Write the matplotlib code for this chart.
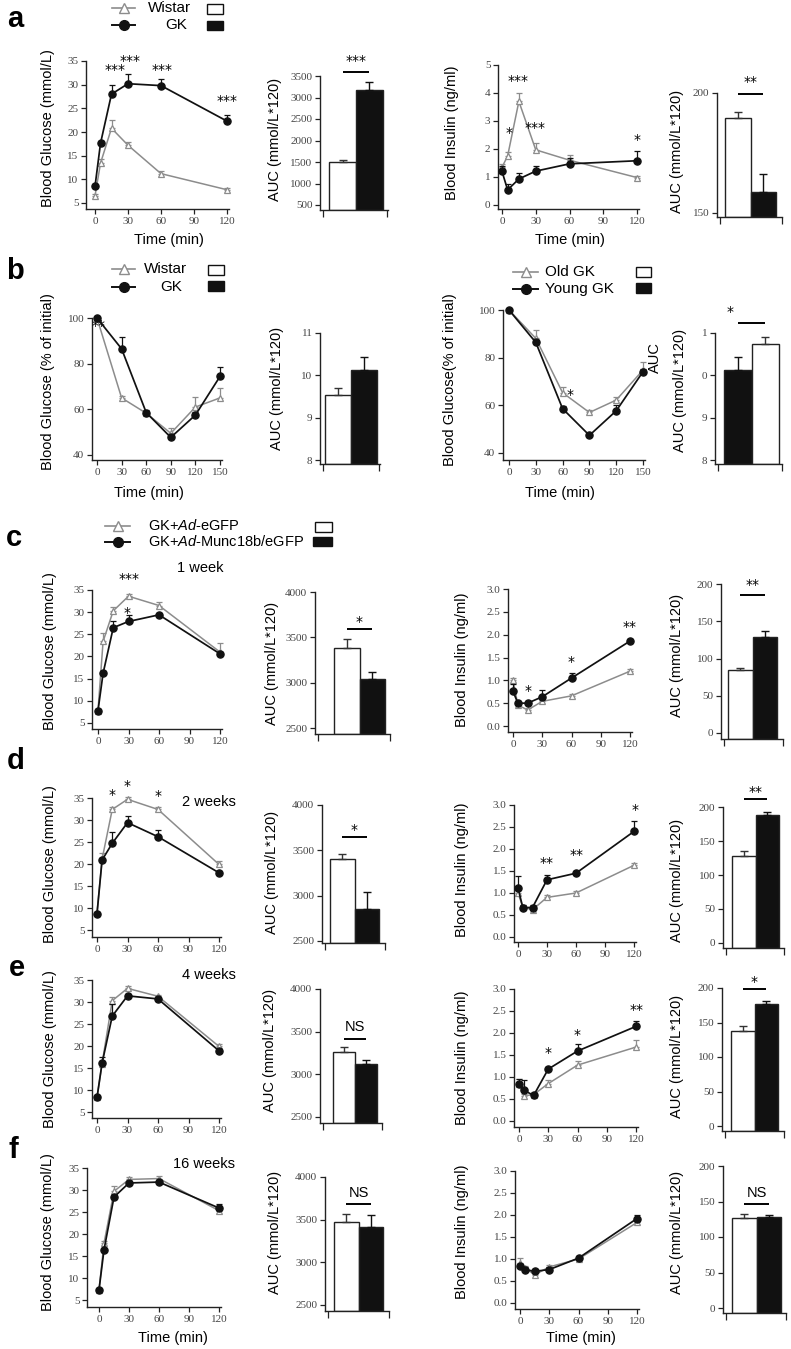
import numpy as np
import matplotlib
matplotlib.use('Agg')
import matplotlib.pyplot as plt
from matplotlib.patches import Rectangle

plt.rcParams['font.family'] = ['Liberation Sans', 'DejaVu Sans']
plt.rcParams['mathtext.fontset'] = 'custom'
plt.rcParams['mathtext.it'] = 'Liberation Sans:italic'
plt.rcParams['mathtext.rm'] = 'Liberation Sans'

GRAY = '#8c8c8c'
BLACK = '#111111'

# ---------------- data ----------------
t_ogtt = [0, 5, 15, 30, 60, 120]
t_itt = [0, 30, 60, 90, 120, 150]

# a: Wistar vs GK OGTT
a_glu_wistar = [6.5, 13.4, 20.8, 17.2, 11.2, 7.8]
a_glu_wistar_err = [0.5, 0.8, 1.8, 0.7, 0.6, 0.3]
a_glu_gk = [8.5, 17.6, 28.0, 30.2, 29.8, 22.3]
a_glu_gk_err = [0.6, 0.6, 2.0, 2.1, 1.5, 1.3]
a_glu_auc = [1490, 3175]
a_glu_auc_err = [55, 190]
a_ins_wistar = [1.35, 1.75, 3.7, 1.97, 1.6, 0.98]
a_ins_wistar_err = [0.1, 0.15, 0.3, 0.25, 0.2, 0.05]
a_ins_gk = [1.2, 0.54, 0.93, 1.21, 1.47, 1.58]
a_ins_gk_err = [0.2, 0.2, 0.2, 0.18, 0.2, 0.35]
a_ins_auc = [189.5, 158.9]
a_ins_auc_err = [2.5, 7.5]
a_glu_sig_t = [18, 32, 61, 120]
a_glu_sig_y = [33.1, 35.0, 33.1, 26.5]
a_glu_sig = ['***', '***', '***', '***']
a_ins_sig_t = [6, 14, 29, 120]
a_ins_sig_y = [2.57, 4.43, 2.75, 2.32]
a_ins_sig = ['*', '***', '***', '*']

# b: ITT
b_wistar = [100, 65, 58.3, 49.5, 61, 65]
b_wistar_err = [0.5, 1, 1, 2.5, 4.5, 4.5]
b_gk = [100, 86.5, 58.6, 47.7, 57.5, 74.4]
b_gk_err = [0.5, 5, 1, 1, 1.5, 4]
b_auc = [9.54, 10.12]
b_auc_err = [0.17, 0.32]
b_old = [100, 88.1, 65.3, 57.0, 62.2, 74.8]
b_old_err = [0.5, 3.5, 2.5, 1, 1.5, 3.5]
b_young = [100, 86.4, 58.6, 47.4, 57.7, 74.1]
b_young_err = [0.5, 1, 1, 0.5, 2.3, 1]
b_age_auc = [10.12, 10.74]   # Young GK (black), Old GK (white)
b_age_auc_err = [0.32, 0.17]
b_sig_t, b_sig_y, b_sig = [2], [96.5], ['**']
b_age_sig_t, b_age_sig_y, b_age_sig = [68], [64.3], ['*']

# c-f: GK+Ad-eGFP vs GK+Ad-Munc18b/eGFP
c_glu_egfp = [7.8, 23.4, 30.3, 33.6, 31.5, 21.0]
c_glu_egfp_err = [0.3, 1.8, 0.8, 0.6, 0.8, 2.0]
c_glu_munc = [7.8, 16.2, 26.5, 27.9, 29.4, 20.6]
c_glu_munc_err = [0.3, 0.5, 1.4, 1.4, 0.5, 0.5]
c_glu_auc = [3380, 3040]
c_glu_auc_err = [100, 80]
c_ins_egfp = [1.0, 0.46, 0.35, 0.54, 0.66, 1.2]
c_ins_egfp_err = [0.05, 0.05, 0.05, 0.05, 0.05, 0.05]
c_ins_munc = [0.76, 0.5, 0.5, 0.64, 1.05, 1.86]
c_ins_munc_err = [0.15, 0.05, 0.05, 0.15, 0.11, 0.05]
c_ins_auc = [85, 129]
c_ins_auc_err = [2, 8]
c_glu_sig_t, c_glu_sig_y, c_glu_sig = [31, 29], [37.5, 29.8], ['***', '*']
c_ins_sig_t, c_ins_sig_y, c_ins_sig = [15, 60, 120], [0.77, 1.40, 2.17], ['*', '*', '**']

d_glu_egfp = [8.8, 21.1, 32.4, 34.7, 32.4, 19.9]
d_glu_egfp_err = [0.3, 1.4, 0.5, 0.5, 0.5, 0.8]
d_glu_munc = [8.7, 20.9, 24.7, 29.4, 26.2, 18.0]
d_glu_munc_err = [0.3, 0.5, 2.5, 1.4, 1.6, 0.5]
d_glu_auc = [3400, 2855]
d_glu_auc_err = [65, 180]
d_ins_egfp = [1.0, 0.68, 0.62, 0.9, 1.0, 1.63]
d_ins_egfp_err = [0.1, 0.05, 0.05, 0.05, 0.05, 0.05]
d_ins_munc = [1.11, 0.67, 0.67, 1.3, 1.45, 2.4]
d_ins_munc_err = [0.27, 0.05, 0.05, 0.1, 0.05, 0.24]
d_ins_auc = [128, 188]
d_ins_auc_err = [8, 5]
d_glu_sig_t, d_glu_sig_y, d_glu_sig = [15, 30, 60], [35.7, 37.7, 35.5], ['*', '*', '*']
d_ins_sig_t, d_ins_sig_y, d_ins_sig = [30, 61, 121], [1.68, 1.86, 2.89], ['**', '**', '*']

e_glu_egfp = [8.3, 16.0, 30.3, 33.1, 31.3, 19.9]
e_glu_egfp_err = [0.3, 0.5, 0.8, 0.5, 0.4, 0.5]
e_glu_munc = [8.3, 16.1, 26.8, 31.4, 30.7, 18.9]
e_glu_munc_err = [0.3, 1.5, 2.7, 0.5, 0.4, 0.4]
e_glu_auc = [3263, 3118]
e_glu_auc_err = [60, 50]
e_ins_egfp = [0.85, 0.57, 0.6, 0.85, 1.27, 1.68]
e_ins_egfp_err = [0.1, 0.05, 0.05, 0.08, 0.1, 0.15]
e_ins_munc = [0.83, 0.7, 0.58, 1.18, 1.59, 2.15]
e_ins_munc_err = [0.13, 0.23, 0.06, 0.05, 0.16, 0.13]
e_ins_auc = [137, 177]
e_ins_auc_err = [8, 3.5]
e_ins_sig_t, e_ins_sig_y, e_ins_sig = [30, 60, 121], [1.55, 1.95, 2.52], ['*', '*', '**']

f_glu_egfp = [7.2, 17.9, 29.7, 32.4, 32.6, 25.3]
f_glu_egfp_err = [0.3, 0.5, 1.3, 0.5, 0.5, 0.9]
f_glu_munc = [7.3, 16.4, 28.4, 31.6, 31.8, 25.9]
f_glu_munc_err = [0.3, 0.5, 0.5, 0.5, 0.5, 1.0]
f_glu_auc = [3469, 3414]
f_glu_auc_err = [100, 140]
f_ins_egfp = [0.92, 0.8, 0.64, 0.82, 1.0, 1.83]
f_ins_egfp_err = [0.1, 0.05, 0.05, 0.05, 0.05, 0.05]
f_ins_munc = [0.84, 0.76, 0.72, 0.76, 1.02, 1.92]
f_ins_munc_err = [0.05, 0.05, 0.05, 0.05, 0.05, 0.08]
f_ins_auc = [127, 127.5]
f_ins_auc_err = [6, 4]

# ---------------- layout helpers ----------------
W, H = 791, 1349
fig = plt.figure(figsize=(W / 100, H / 100), dpi=100)


def rect(l, t, r, b):
    return [l / W, 1 - b / H, (r - l) / W, (b - t) / H]


def style(ax):
    for s in ['top', 'right']:
        ax.spines[s].set_visible(False)
    for s in ['left', 'bottom']:
        ax.spines[s].set_linewidth(1.0)
        ax.spines[s].set_color('#222222')
    ax.tick_params(direction='out', length=3.5, width=0.9, color='#222222',
                   labelsize=8, labelcolor='#444444', pad=2,
                   labelfontfamily='Liberation Serif')
    ax.patch.set_alpha(0)


def line_axes(xl, yb, xr, xp, xv, yp, yv, xticks, yticks, yfmt=None):
    sx = (xp[1] - xp[0]) / (xv[1] - xv[0])
    sy = (yp[0] - yp[1]) / (yv[1] - yv[0])
    ax = fig.add_axes(rect(xl, yp[1], xr, yb))
    ax.set_xlim(xv[0] - (xp[0] - xl) / sx, xv[1] + (xr - xp[1]) / sx)
    ax.set_ylim(yv[0] - (yb - yp[0]) / sy, yv[1])
    style(ax)
    ax.set_xticks(xticks)
    ax.set_yticks(yticks)
    if yfmt:
        ax.set_yticklabels([yfmt % v for v in yticks])
    return ax


def series(ax, t, y, err, kind):
    if kind == 'gray':
        c, m, mfc, ms, lw, z = GRAY, '^', 'white', 5, 1.1, 2
    else:
        c, m, mfc, ms, lw, z = BLACK, 'o', BLACK, 5.2, 1.25, 3
    ax.errorbar(t, y, yerr=[np.zeros(len(err)), err], fmt='none', ecolor=c,
                elinewidth=0.9, capsize=2, capthick=0.9, zorder=z, clip_on=False)
    ax.plot(t, y, color=c, lw=lw, marker=m, ms=ms, mfc=mfc, mec=c, mew=0.9,
            zorder=z + 0.5, clip_on=False)


def stars(ax, ts, ys, labels):
    for t, y, lab in zip(ts, ys, labels):
        ax.text(t, y, lab, ha='center', va='center', fontsize=10,
                family='DejaVu Sans', clip_on=False)


def bar_axes(xl, yb, xr, bw0, bb1, yp, yv, yticks, vals, errs, fills,
             ylabels=None, sig=None):
    s = (bb1 - bw0) / 2
    sy = (yp[0] - yp[1]) / (yv[1] - yv[0])
    ax = fig.add_axes(rect(xl, yp[1], xr, yb))
    x_lo, x_hi = -(bw0 - xl) / s, 2 + (xr - bb1) / s
    y_lo = yv[0] - (yb - yp[0]) / sy
    ax.set_xlim(x_lo, x_hi)
    ax.set_ylim(y_lo, yv[1])
    style(ax)
    ax.set_yticks(yticks)
    if ylabels:
        ax.set_yticklabels(ylabels)
    ax.set_xticks([x_lo + 3 / s, x_hi - 0.5 / s])
    ax.set_xticklabels([])
    ax.tick_params(axis='x', length=5)
    x = np.arange(len(vals)) + 0.5
    heights = np.array(vals) - y_lo
    ax.bar(x, heights, width=1, bottom=y_lo, color=fills,
           edgecolor='#222222', linewidth=1.0, zorder=2)
    for xi, v, e, f in zip(x, vals, errs, fills):
        ec = '#111111' if f != 'white' else '#333333'
        ax.errorbar([xi], [v], yerr=[[0], [e]], fmt='none', ecolor=ec,
                    elinewidth=1, capsize=3, capthick=1, zorder=3)
    if sig:
        level, tx, ty, lab = sig
        ax.plot([0.5, 1.5], [level, level], color='black', lw=1.4,
                clip_on=False, solid_capstyle='butt')
        if lab == 'NS':
            ax.text(tx, ty, lab, ha='center', va='center', fontsize=10.5,
                    clip_on=False)
        else:
            ax.text(tx, ty, lab, ha='center', va='center', fontsize=10,
                    family='DejaVu Sans', clip_on=False)
    return ax


glu_y = list(range(5, 36, 5))
ins_y = [0, 0.5, 1.0, 1.5, 2.0, 2.5, 3.0]
auc_glu_y = [2500, 3000, 3500, 4000]
auc_ins_y = [0, 50, 100, 150, 200]
t_ticks = [0, 30, 60, 90, 120]
itt_ticks = [0, 30, 60, 90, 120, 150]

# ---------------- row a ----------------
ax = line_axes(86, 209, 229, (95, 227), (0, 120), (203, 61), (5, 35), t_ticks, glu_y)
series(ax, t_ogtt, a_glu_wistar, a_glu_wistar_err, 'gray')
series(ax, t_ogtt, a_glu_gk, a_glu_gk_err, 'black')
stars(ax, a_glu_sig_t, a_glu_sig_y, a_glu_sig)

bar_axes(320, 210, 388, 329, 383, (205, 76), (500, 3500), list(range(500, 3501, 500)),
         a_glu_auc, a_glu_auc_err, ['white', BLACK], sig=(3593, 1.0, 3849, '***'))

ax = line_axes(498, 209, 639, (502, 637), (0, 120), (205, 65), (0, 5), t_ticks, [0, 1, 2, 3, 4, 5])
series(ax, t_ogtt, a_ins_wistar, a_ins_wistar_err, 'gray')
series(ax, t_ogtt, a_ins_gk, a_ins_gk_err, 'black')
stars(ax, a_ins_sig_t, a_ins_sig_y, a_ins_sig)

bar_axes(717, 217, 782, 725, 776, (213, 93), (150, 200), [150, 200],
         a_ins_auc, a_ins_auc_err, ['white', BLACK], sig=(199.6, 1.0, 204.6, '**'))

# ---------------- row b ----------------
ax = line_axes(92, 460, 222, (97, 220), (0, 150), (455, 318), (40, 100), itt_ticks, [40, 60, 80, 100])
series(ax, t_itt, b_wistar, b_wistar_err, 'gray')
series(ax, t_itt, b_gk, b_gk_err, 'black')
stars(ax, b_sig_t, b_sig_y, b_sig)

bar_axes(320, 464, 380, 325, 377, (460, 333), (8, 11), [8, 9, 10, 11],
         b_auc, b_auc_err, ['white', BLACK])

ax = line_axes(503, 460, 645, (509, 643), (0, 150), (453, 310), (40, 100), itt_ticks, [40, 60, 80, 100])
series(ax, t_itt, b_old, b_old_err, 'gray')
series(ax, t_itt, b_young, b_young_err, 'black')
stars(ax, b_age_sig_t, b_age_sig_y, b_age_sig)

bar_axes(715, 464, 782, 724, 779, (460, 333), (8, 11), [8, 9, 10, 11],
         b_age_auc, b_age_auc_err, [BLACK, 'white'], ylabels=['8', '9', '0', '1'],
         sig=(11.24, 0.21, 11.5, '*'))

# ---------------- rows c-f ----------------
rows = [
    dict(glu=(92, 729, 222, (98, 220), (723, 590)), gauc=(315, 734, 390, 334, 385, (728, 592)),
         ins=(508, 732, 632, (513, 630), (726, 589)), iauc=(721, 739, 783, 728, 777, (733, 584)),
         ge=c_glu_egfp, gee=c_glu_egfp_err, gm=c_glu_munc, gme=c_glu_munc_err,
         ga=c_glu_auc, gae=c_glu_auc_err, ie=c_ins_egfp, iee=c_ins_egfp_err,
         im=c_ins_munc, ime=c_ins_munc_err, ia=c_ins_auc, iae=c_ins_auc_err,
         gsig=(c_glu_sig_t, c_glu_sig_y, c_glu_sig), isig=(c_ins_sig_t, c_ins_sig_y, c_ins_sig),
         gbar=(3591, 1.0, 3669, '*'), ibar=(185, 1.0, 199, '**')),
    dict(glu=(92, 937, 221, (97, 219), (930, 798)), gauc=(322, 943, 385, 330, 379, (941, 805)),
         ins=(514, 942, 636, (518, 634), (937, 805)), iauc=(723, 948, 784, 732, 779, (943, 807)),
         ge=d_glu_egfp, gee=d_glu_egfp_err, gm=d_glu_munc, gme=d_glu_munc_err,
         ga=d_glu_auc, gae=d_glu_auc_err, ie=d_ins_egfp, iee=d_ins_egfp_err,
         im=d_ins_munc, ime=d_ins_munc_err, ia=d_ins_auc, iae=d_ins_auc_err,
         gsig=(d_glu_sig_t, d_glu_sig_y, d_glu_sig), isig=(d_ins_sig_t, d_ins_sig_y, d_ins_sig),
         gbar=(3647, 1.0, 3724, '*'), ibar=(212, 1.0, 222, '**')),
    dict(glu=(92, 1118, 221, (97, 219), (1112, 980)), gauc=(320, 1123, 382, 333, 377, (1117, 989)),
         ins=(514, 1127, 638, (519, 636), (1121, 989)), iauc=(722, 1131, 784, 731, 778, (1126, 988)),
         ge=e_glu_egfp, gee=e_glu_egfp_err, gm=e_glu_munc, gme=e_glu_munc_err,
         ga=e_glu_auc, gae=e_glu_auc_err, ie=e_ins_egfp, iee=e_ins_egfp_err,
         im=e_ins_munc, ime=e_ins_munc_err, ia=e_ins_auc, iae=e_ins_auc_err,
         gsig=None, isig=(e_ins_sig_t, e_ins_sig_y, e_ins_sig),
         gbar=(3414, 1.0, 3555, 'NS'), ibar=(198.6, 1.0, 208.7, '*')),
    dict(glu=(87, 1307, 221, (99, 219), (1300, 1168)), gauc=(325, 1311, 389, 334, 383, (1305, 1177)),
         ins=(515, 1309, 639, (520, 637), (1303, 1171)), iauc=(723, 1313, 786, 732, 781, (1308, 1166)),
         ge=f_glu_egfp, gee=f_glu_egfp_err, gm=f_glu_munc, gme=f_glu_munc_err,
         ga=f_glu_auc, gae=f_glu_auc_err, ie=f_ins_egfp, iee=f_ins_egfp_err,
         im=f_ins_munc, ime=f_ins_munc_err, ia=f_ins_auc, iae=f_ins_auc_err,
         gsig=None, isig=None,
         gbar=(3684, 1.0, 3813, 'NS'), ibar=(146.5, 1.0, 162, 'NS')),
]

for r in rows:
    xl, yb, xr, xp, yp = r['glu']
    ax = line_axes(xl, yb, xr, xp, (0, 120), yp, (5, 35), t_ticks, glu_y)
    series(ax, t_ogtt, r['ge'], r['gee'], 'gray')
    series(ax, t_ogtt, r['gm'], r['gme'], 'black')
    if r['gsig']:
        stars(ax, *r['gsig'])

    xl, yb, xr, bw0, bb1, yp = r['gauc']
    bar_axes(xl, yb, xr, bw0, bb1, yp, (2500, 4000), auc_glu_y, r['ga'], r['gae'],
             ['white', BLACK], sig=r['gbar'])

    xl, yb, xr, xp, yp = r['ins']
    ax = line_axes(xl, yb, xr, xp, (0, 120), yp, (0, 3), t_ticks, ins_y, yfmt='%.1f')
    series(ax, t_ogtt, r['ie'], r['iee'], 'gray')
    series(ax, t_ogtt, r['im'], r['ime'], 'black')
    if r['isig']:
        stars(ax, *r['isig'])

    xl, yb, xr, bw0, bb1, yp = r['iauc']
    bar_axes(xl, yb, xr, bw0, bb1, yp, (0, 200), auc_ins_y, r['ia'], r['iae'],
             ['white', BLACK], sig=r['ibar'])

# ---------------- overlay text, legends ----------------
ov = fig.add_axes([0, 0, 1, 1])
ov.set_xlim(0, W)
ov.set_ylim(H, 0)
ov.axis('off')
ov.patch.set_alpha(0)

for lab, x, y in [('a', 15, 19), ('b', 15, 271), ('c', 14, 538),
                  ('d', 16, 761), ('e', 17, 968), ('f', 13, 1150)]:
    ov.text(x, y, lab, fontsize=21, fontweight='bold', ha='center', va='center')

AUC = 'AUC (mmol/L*120)'
GLU = 'Blood Glucose (mmol/L)'
INS = 'Blood Insulin (ng/ml)'
ylabels = [
    (48, 128, GLU), (275, 139, AUC), (452, 133, INS), (677, 151, AUC),
    (48, 382, 'Blood Glucose (% of initial)'), (277, 388, AUC),
    (450, 380, 'Blood Glucose(% of initial)'), (680, 390, AUC), (655, 358, 'AUC'),
    (50, 651, GLU), (272, 663, AUC), (462, 660, INS), (677, 655, AUC),
    (50, 864, GLU), (272, 872, AUC), (462, 870, INS), (677, 880, AUC),
    (50, 1049, GLU), (270, 1050, AUC), (462, 1058, INS), (677, 1056, AUC),
    (48, 1232, GLU), (275, 1232, AUC), (462, 1232, INS), (677, 1232, AUC),
]
for x, y, s in ylabels:
    ov.text(x, y, s, rotation=90, ha='center', va='center', fontsize=10.5)

for x, y in [(169, 240), (570, 240), (149, 493), (560, 493), (173, 1338), (581, 1338)]:
    ov.text(x, y, 'Time (min)', ha='center', va='center', fontsize=10.5)

for s, x, y in [('1 week', 200, 568), ('2 weeks', 209, 802),
                ('4 weeks', 209, 975), ('16 weeks', 204, 1164)]:
    ov.text(x, y, s, ha='center', va='center', fontsize=10.5)


def legend_item(x0, x1, y, kind, label, tx, ha, box, fs=11):
    c = GRAY if kind == 'gray' else BLACK
    ov.plot([x0, x1], [y, y], color=c, lw=1.2 if kind == 'gray' else 1.4)
    if kind == 'gray':
        ov.plot([(x0 + x1) / 2], [y], marker='^', ms=6.5, mfc='white', mec=c, mew=1)
    else:
        ov.plot([(x0 + x1) / 2], [y], marker='o', ms=7, mfc=c, mec=c)
    ov.text(tx, y, label, ha=ha, va='center', fontsize=fs)
    bx0, bx1, by0, by1 = box
    ov.add_patch(Rectangle((bx0, by0), bx1 - bx0, by1 - by0,
                           facecolor='white' if kind == 'gray' else BLACK,
                           edgecolor='#111111', lw=1.0))


legend_item(112, 135, 8, 'gray', 'Wistar', 170, 'center', (207, 223, 4, 14))
legend_item(112, 135, 25, 'black', 'GK', 176, 'center', (207, 223, 21, 30))
legend_item(112, 135, 269, 'gray', 'Wistar', 165, 'center', (208, 224, 265, 275))
legend_item(112, 135, 287, 'black', 'GK', 171, 'center', (208, 224, 281, 291))
legend_item(513, 538, 272, 'gray', 'Old GK', 545, 'left', (636, 651, 267, 277))
legend_item(513, 538, 289, 'black', 'Young GK', 545, 'left', (636, 651, 283, 293))
legend_item(105, 130, 526, 'gray', 'GK+$\\mathit{Ad}$-eGFP', 148, 'left', (315, 332, 522, 532), fs=10.5)
legend_item(105, 130, 542, 'black', 'GK+$\\mathit{Ad}$-Munc18b/eGFP', 148, 'left', (313, 332, 537, 546), fs=10.5)

fig.savefig('out.png', dpi=100)
